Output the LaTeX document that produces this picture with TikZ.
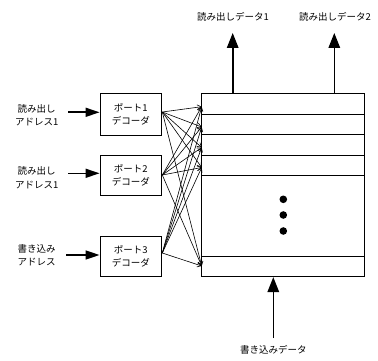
\documentclass[tikz,border=0pt]{standalone}
\usepackage{fontspec}
\setmainfont{Noto Sans CJK JP}
\usetikzlibrary{arrows.meta}
\begin{document}
\begin{tikzpicture}[x=1pt,y=-1pt,
  lbl/.style={font=\fontsize{9.5}{13.5}\selectfont, align=center, inner sep=0pt},
  box/.style={draw, line width=0.8pt, minimum width=61.7pt, inner sep=0pt, align=center,
    font=\fontsize{9.5}{13}\selectfont},
  bigarrow/.style={line width=1.6pt, -{Triangle[length=15pt,width=11.5pt]}},
  inarrow/.style={line width=1.6pt, -{Triangle[length=14pt,width=9pt]}},
  fan/.style={line width=0.6pt, -{Straight Barb[length=4pt,width=5pt]}},
  rowline/.style={line width=0.8pt},
  dot/.style={circle, fill, inner sep=0pt, minimum size=7.6pt}]
\useasboundingbox (0,0) rectangle (378,361);

% memory array
\node[draw, line width=0.8pt, minimum width=162.6pt, minimum height=183.4pt, inner sep=0pt] (mem) at (283,185) {};
\foreach \yy in {114,134.3,155,175,256.3}
  \draw[rowline] (201.7,\yy) -- (364.3,\yy);

% decoders
\node[box, minimum height=41.7pt] (dec1) at (130.8,114.2) {ポート1\\デコーダ};
\node[box, minimum height=40pt] (dec2) at (130.8,175) {ポート2\\デコーダ};
\node[box, minimum height=40pt] (dec3) at (130.8,256.7) {ポート3\\デコーダ};

% address inputs
\node[lbl] (lab1) at (36.7,115) {読み出し\\アドレス1};
\node[lbl] (lab2) at (36.7,177.5) {読み出し\\アドレス1};
\node[lbl] (lab3) at (36.7,255) {書き込み\\アドレス};
\coordinate (in1) at (68,112.3);
\coordinate (in2) at (68,173.3);
\coordinate (in3) at (66,255);
\draw[inarrow] (in1) -- (dec1.west |- in1);
\draw[inarrow] (in2) -- (dec2.west |- in2);
\draw[inarrow] (in3) -- (dec3.west |- in3);

% read outputs
\node[lbl] (out1) at (233,16.7) {読み出しデータ1};
\node[lbl] (out2) at (335,16.7) {読み出しデータ2};
\coordinate (tip1) at (232.7,33);
\coordinate (tip2) at (334.3,33);
\draw[bigarrow] (mem.north -| tip1) -- (tip1);
\draw[bigarrow] (mem.north -| tip2) -- (tip2);

% write data input
\node[lbl] (wd) at (273.3,350) {書き込みデータ};
\coordinate (wdin) at (273.3,338);
\draw[bigarrow] (wdin) -- (mem.south -| wdin);

% word-line fan-out from each decoder
\coordinate (s1) at (162.3,112);
\coordinate (s2) at (162.3,175);
\coordinate (s3) at (162.3,253);
\coordinate (t1) at (201.7,106.7);
\coordinate (t2) at (201.7,127);
\coordinate (t3) at (201.7,147.5);
\coordinate (t4) at (201.7,167.5);
\coordinate (t5) at (201.7,266);
\foreach \s in {s1,s2,s3}
  \foreach \t in {t1,t2,t3,t4,t5}
    \draw[fan] (\s) -- (\t);

% ellipsis dots
\node[dot] (d1) at (283.3,199.3) {};
\node[dot] (d2) at (283.3,215) {};
\node[dot] (d3) at (283.3,231) {};
\end{tikzpicture}
\end{document}
